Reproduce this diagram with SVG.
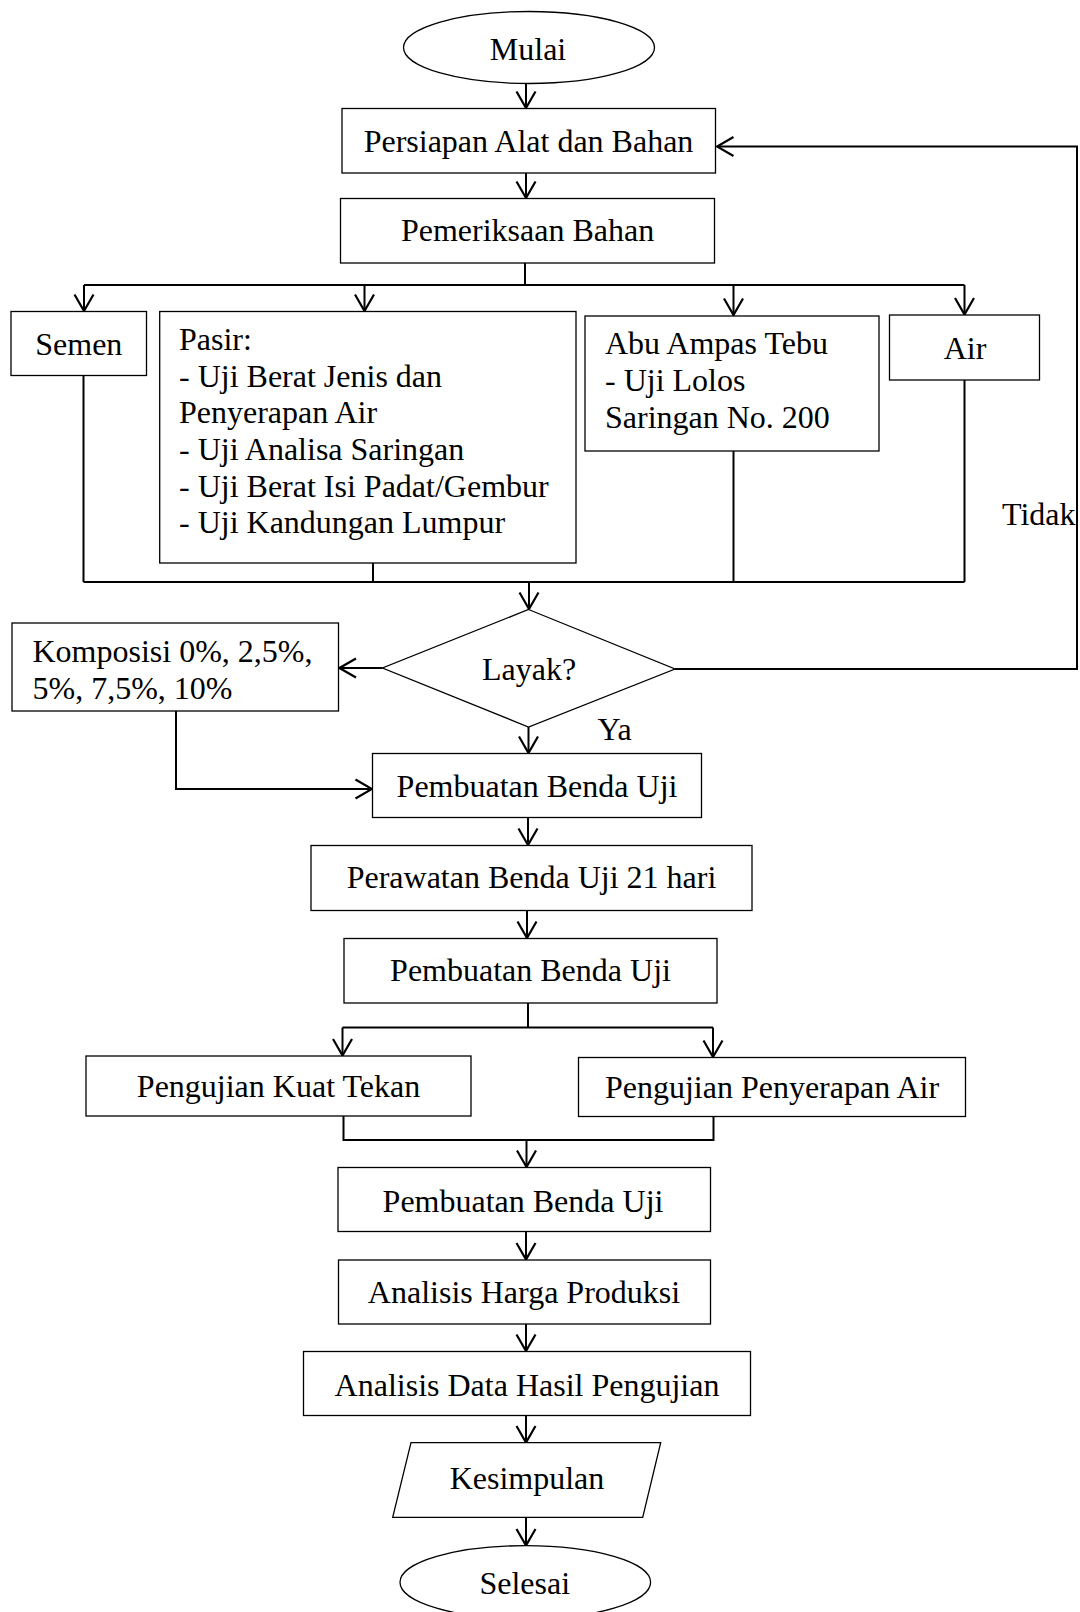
<svg xmlns="http://www.w3.org/2000/svg" width="1080" height="1612" viewBox="0 0 1080 1612">
<style>
.box{fill:#fff;stroke:#000;stroke-width:1.3}
.t{font-family:"Liberation Serif","Times New Roman",serif;font-size:32px;fill:#000}
.c{text-anchor:middle}
.con{fill:none;stroke:#000;stroke-width:2}
</style>
<defs>
<marker id="ah" markerUnits="userSpaceOnUse" viewBox="-20 -12 22 24" refX="0" refY="0" markerWidth="22" markerHeight="24" orient="auto">
<path d="M-16.5,-9.5 L0,0 L-16.5,9.5" fill="none" stroke="#000" stroke-width="2.2"/>
</marker>
</defs>
<rect width="1080" height="1612" fill="#fff"/>

<g id="connectors">
<path class="con" d="M526,83.5 V108" marker-end="url(#ah)"/>
<path class="con" d="M526,173 V198" marker-end="url(#ah)"/>
<path class="con" d="M525,263 V285"/>
<path class="con" d="M84,285 H964.5"/>
<path class="con" d="M84,285 V311" marker-end="url(#ah)"/>
<path class="con" d="M364.5,285 V311" marker-end="url(#ah)"/>
<path class="con" d="M733.5,285 V315" marker-end="url(#ah)"/>
<path class="con" d="M964.5,285 V314.5" marker-end="url(#ah)"/>
<path class="con" d="M83.5,375.5 V582"/>
<path class="con" d="M373,563 V582"/>
<path class="con" d="M733.5,451 V582"/>
<path class="con" d="M964.5,380 V582"/>
<path class="con" d="M83.5,582 H964.5" stroke-width="2.5"/>
<path class="con" d="M529,582 V609" marker-end="url(#ah)"/>
<path class="con" d="M675,669 H1077 V146.5 H717" marker-end="url(#ah)"/>
<path class="con" d="M382.5,668 H339.5" marker-end="url(#ah)"/>
<path class="con" d="M176,711 V789 H372" marker-end="url(#ah)"/>
<path class="con" d="M528.5,727 V753" marker-end="url(#ah)"/>
<path class="con" d="M528,817.5 V845" marker-end="url(#ah)"/>
<path class="con" d="M527,910.5 V938" marker-end="url(#ah)"/>
<path class="con" d="M528,1003 V1027.5"/>
<path class="con" d="M342.5,1027.5 H713"/>
<path class="con" d="M342.5,1027.5 V1055.5" marker-end="url(#ah)"/>
<path class="con" d="M713,1027.5 V1057" marker-end="url(#ah)"/>
<path class="con" d="M343.5,1116 V1140 H713.5 V1116.5"/>
<path class="con" d="M526.5,1140 V1167" marker-end="url(#ah)"/>
<path class="con" d="M526,1231.5 V1259.5" marker-end="url(#ah)"/>
<path class="con" d="M526,1324 V1351" marker-end="url(#ah)"/>
<path class="con" d="M526,1415.5 V1442.5" marker-end="url(#ah)"/>
<path class="con" d="M526,1517.3 V1545.5" marker-end="url(#ah)"/>
<text class="t" x="1002" y="525">Tidak</text>
<text class="t" x="597.5" y="740">Ya</text>
</g>

<g id="mulai">
<ellipse class="box" cx="529" cy="47.5" rx="125.5" ry="36"/>
<text class="t c" x="528" y="60">Mulai</text>
</g>

<g id="persiapan">
<rect class="box" x="342" y="108.5" width="373.5" height="64.5"/>
<text class="t c" x="528.5" y="152">Persiapan Alat dan Bahan</text>
</g>

<g id="pemeriksaan">
<rect class="box" x="340.5" y="198.5" width="374" height="64.5"/>
<text class="t c" x="527.5" y="241">Pemeriksaan Bahan</text>
</g>

<g id="semen">
<rect class="box" x="11" y="311.5" width="135.5" height="64"/>
<text class="t c" x="78.8" y="355">Semen</text>
</g>

<g id="pasir">
<rect class="box" x="159.7" y="311.5" width="416.3" height="251.5"/>
<text class="t" x="179" y="350">Pasir:</text>
<text class="t" x="179" y="386.7">- Uji Berat Jenis dan</text>
<text class="t" x="179" y="423.3">Penyerapan Air</text>
<text class="t" x="179" y="460">- Uji Analisa Saringan</text>
<text class="t" x="179" y="496.7">- Uji Berat Isi Padat/Gembur</text>
<text class="t" x="179" y="533.3">- Uji Kandungan Lumpur</text>
</g>

<g id="abu">
<rect class="box" x="585" y="316" width="294" height="135"/>
<text class="t" x="605" y="354">Abu Ampas Tebu</text>
<text class="t" x="605" y="391">- Uji Lolos</text>
<text class="t" x="605" y="428">Saringan No. 200</text>
</g>

<g id="air">
<rect class="box" x="889.5" y="315" width="150" height="65"/>
<text class="t c" x="965" y="359">Air</text>
</g>

<g id="layak">
<polygon class="box" points="528.5,609.5 675,669 528.5,727 382.5,668"/>
<text class="t c" x="529" y="680">Layak?</text>
</g>

<g id="komposisi">
<rect class="box" x="12" y="623" width="326.5" height="88"/>
<text class="t" x="32.5" y="662">Komposisi 0%, 2,5%,</text>
<text class="t" x="32.5" y="698.5">5%, 7,5%, 10%</text>
</g>

<g id="pembuatan1">
<rect class="box" x="372.5" y="753.5" width="329" height="64"/>
<text class="t c" x="537" y="797">Pembuatan Benda Uji</text>
</g>

<g id="perawatan">
<rect class="box" x="311" y="845.5" width="441" height="65"/>
<text class="t c" x="531.5" y="888">Perawatan Benda Uji 21 hari</text>
</g>

<g id="pembuatan2">
<rect class="box" x="344" y="938.5" width="373" height="64.5"/>
<text class="t c" x="530.5" y="981">Pembuatan Benda Uji</text>
</g>

<g id="kuat-tekan">
<rect class="box" x="86" y="1056" width="385" height="60"/>
<text class="t c" x="278.5" y="1097">Pengujian Kuat Tekan</text>
</g>

<g id="penyerapan">
<rect class="box" x="578.5" y="1057.5" width="387" height="59"/>
<text class="t c" x="772" y="1098">Pengujian Penyerapan Air</text>
</g>

<g id="pembuatan3">
<rect class="box" x="338" y="1167.5" width="372.5" height="64"/>
<text class="t c" x="523" y="1211.5">Pembuatan Benda Uji</text>
</g>

<g id="analisis-harga">
<rect class="box" x="338.5" y="1260" width="372" height="64"/>
<text class="t c" x="524" y="1303">Analisis Harga Produksi</text>
</g>

<g id="analisis-data">
<rect class="box" x="303.5" y="1351.5" width="447" height="64"/>
<text class="t c" x="527" y="1396">Analisis Data Hasil Pengujian</text>
</g>

<g id="kesimpulan">
<polygon class="box" points="411,1442.7 660.7,1442.7 642.7,1517.3 392.7,1517.3"/>
<text class="t c" x="527" y="1489">Kesimpulan</text>
</g>

<g id="selesai">
<ellipse class="box" cx="525.3" cy="1582.3" rx="125.3" ry="36.6"/>
<text class="t c" x="524.7" y="1594">Selesai</text>
</g>
</svg>
